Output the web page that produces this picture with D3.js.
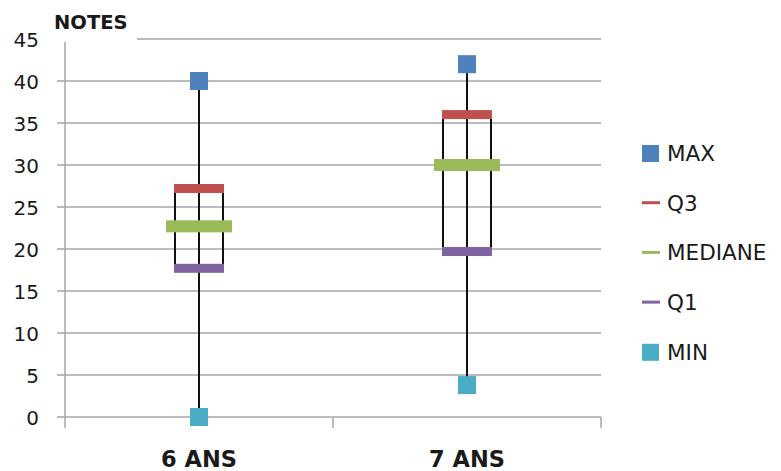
<!DOCTYPE html>
<html><head><meta charset="utf-8">
<script src="https://cdn.jsdelivr.net/npm/d3@7"></script>
<style>body{margin:0;background:#fff}svg{display:block}text{font-family:"DejaVu Sans",sans-serif;fill:#1a1a1a}</style>
</head><body><svg width="781" height="471"></svg>
<script>
const categories = ["6 ANS", "7 ANS"];
const maxVals = [40, 42];
const q3Vals = [27.2, 36];
const medVals = [22.7, 30];
const q1Vals = [17.7, 19.7];
const minVals = [0, 3.8];
const yTicks = [0, 5, 10, 15, 20, 25, 30, 35, 40, 45];
const seriesNames = ["MAX", "Q3", "MEDIANE", "Q1", "MIN"];
const colors = ["#4F81BD", "#C0504D", "#9BBB59", "#8064A2", "#4BACC6"];

const svg = d3.select("svg");
const L = 65, R = 601, T = 39, B = 417;
const x = d3.scaleBand().domain(categories).range([L, R]);
const y = d3.scaleLinear().domain([0, 45]).range([B, T]);

// gridlines
const grid = svg.append("g");
yTicks.forEach(t => {
  grid.append("line").attr("x1", t === 45 ? 137 : 57).attr("x2", R)
    .attr("y1", y(t)).attr("y2", y(t)).attr("stroke", "#a6a6a6").attr("stroke-width", 1.5);
});
// left axis
svg.append("line").attr("x1", L).attr("x2", L).attr("y1", 42).attr("y2", B)
  .attr("stroke", "#a6a6a6").attr("stroke-width", 1.5);
// bottom ticks
[L, L + x.bandwidth(), R].forEach(px => {
  svg.append("line").attr("x1", px).attr("x2", px).attr("y1", B).attr("y2", 428)
    .attr("stroke", "#a6a6a6").attr("stroke-width", 1.5);
});
// y labels
yTicks.forEach(t => {
  svg.append("text").attr("x", 39).attr("y", y(t) + 7.5)
    .attr("text-anchor", "end").attr("font-size", 20).text(t);
});
// title
svg.append("text").attr("x", 54).attr("y", 29).attr("font-size", 19.5)
  .attr("font-weight", "bold").text("NOTES");
// category labels
categories.forEach(c => {
  svg.append("text").attr("x", x(c) + x.bandwidth() / 2).attr("y", 467)
    .attr("text-anchor", "middle").attr("font-size", 22.5).attr("font-weight", "bold").text(c);
});

// boxes
categories.forEach((c, i) => {
  const cx = x(c) + x.bandwidth() / 2;
  const g = svg.append("g");
  g.append("line").attr("x1", cx).attr("x2", cx).attr("y1", y(maxVals[i])).attr("y2", y(minVals[i]))
    .attr("stroke", "#111").attr("stroke-width", 2);
  [-24, 24].forEach(dx => {
    g.append("line").attr("x1", cx + dx).attr("x2", cx + dx).attr("y1", y(q3Vals[i])).attr("y2", y(q1Vals[i]))
      .attr("stroke", "#111").attr("stroke-width", 2);
  });
  g.append("rect").attr("x", cx - 25).attr("y", y(q3Vals[i]) - 4.5).attr("width", 50).attr("height", 9).attr("fill", colors[1]);
  g.append("rect").attr("x", cx - 25).attr("y", y(q1Vals[i]) - 4.5).attr("width", 50).attr("height", 9).attr("fill", colors[3]);
  g.append("rect").attr("x", cx - 33).attr("y", y(medVals[i]) - 6).attr("width", 66).attr("height", 12).attr("fill", colors[2]);
  g.append("rect").attr("x", cx - 9).attr("y", y(maxVals[i]) - 9).attr("width", 18).attr("height", 18).attr("fill", colors[0]);
  g.append("rect").attr("x", cx - 9).attr("y", y(minVals[i]) - 9).attr("width", 18).attr("height", 18).attr("fill", colors[4]);
});

// legend
seriesNames.forEach((n, i) => {
  const ly = 153 + i * 49.7;
  if (i === 0 || i === 4) {
    svg.append("rect").attr("x", 642).attr("y", ly - 8).attr("width", 17).attr("height", 17).attr("fill", colors[i]);
  } else {
    svg.append("rect").attr("x", 642).attr("y", ly - 1.5).attr("width", 18).attr("height", 3).attr("fill", colors[i]);
  }
  svg.append("text").attr("x", 667).attr("y", ly + 8).attr("font-size", 21.5).text(n);
});
</script></body></html>
